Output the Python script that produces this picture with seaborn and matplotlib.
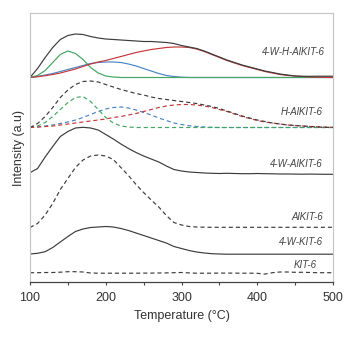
import numpy as np
import pandas as pd
import matplotlib
matplotlib.use("Agg")
import matplotlib.pyplot as plt
import seaborn as sns

# Temperature grid (°C)
temperature = list(range(100, 510, 10))

# 4-W-H-AlKIT-6 (solid) : total + deconvoluted components (intensity above baseline)
whal_total = [0, 9, 20, 30, 38, 42, 43.5, 43, 41, 39.5, 38.5, 38, 37.5, 37, 36.5, 36, 36, 35.5, 35, 34,
              32, 30.5, 29, 26.5, 23.5, 20.5, 17.5, 15, 12.5, 10.5, 8.5, 6.5, 5, 3.5, 2.5, 1.5, 1.2, 1.2, 1.3, 1.3, 1.3]
whal_green = [0, 2, 7, 15, 23, 26.5, 24, 18, 10, 4.5, 1.5, 0.5, 0, 0, 0, 0, 0, 0, 0, 0,
              0, 0, 0, 0, 0, 0, 0, 0, 0, 0, 0, 0, 0, 0, 0, 0, 0, 0, 0, 0, 0]
whal_blue = [0, 1, 2.5, 4, 6, 8, 10, 12, 14, 15, 15.5, 15.5, 15, 13.5, 11.5, 9, 6.5, 4, 2, 1,
             0.3, 0, 0, 0, 0, 0, 0, 0, 0, 0, 0, 0, 0, 0, 0, 0, 0, 0, 0, 0, 0]
whal_red = [0, 0.8, 1.8, 3, 4.5, 6.5, 8.5, 11, 13.5, 15.5, 17, 19, 21, 23, 25, 26.5, 28, 29, 30, 30.5,
            30.5, 30, 28.5, 26, 23, 20, 17, 14.5, 12, 10, 8, 6, 4.5, 3, 2, 1.5, 1, 0.5, 0.3, 0.2, 0]

# H-AlKIT-6 (dashed) : total + components
hal_total = [0, 4, 11, 20, 30, 37.5, 43, 46, 46.5, 45.5, 43, 40.5, 38, 36, 34, 32.5, 30.5, 29, 28, 27,
             26, 25, 24, 22.5, 21, 19, 16.5, 14, 11.5, 9.5, 7.5, 6, 4.5, 3.5, 2.5, 2, 1.5, 1, 0.5, 0.2, 0]
hal_green = [0, 1.5, 5, 11, 18, 25, 30, 31, 26, 18, 10, 4.5, 1.5, 0.5, 0, 0, 0, 0, 0, 0,
             0, 0, 0, 0, 0, 0, 0, 0, 0, 0, 0, 0, 0, 0, 0, 0, 0, 0, 0, 0, 0]
hal_blue = [0, 0.5, 1.5, 2.5, 4, 5.5, 7.5, 10, 13, 16, 18.5, 20, 20.5, 19.5, 17.5, 15, 12.5, 9.5, 7, 4.5,
            3, 1.8, 1, 0.5, 0.2, 0, 0, 0, 0, 0, 0, 0, 0, 0, 0, 0, 0, 0, 0, 0, 0]
hal_red = [0, 0.5, 1, 1.5, 2.5, 3.5, 4.5, 5.5, 6.5, 7.5, 8.5, 10, 11, 12.5, 14, 16, 18, 20, 21.5, 22.5,
           23, 23, 22.5, 21.5, 20, 18, 16, 13.5, 11, 9, 7, 5.5, 4.5, 3.5, 2.5, 2, 1.5, 1, 0.7, 0.4, 0.2]

# Single profiles
wal = [1.8, 6, 17.5, 28, 38, 43, 46.5, 47.2, 46.5, 44.5, 40, 35.5, 30.5, 26, 22, 18.5, 15.5, 12.5, 8.5, 5,
       3.5, 2.5, 2, 1.5, 1.2, 1, 1.2, 1, 0.8, 0.8, 1, 0.8, 0.7, 0.5, 0.5, 0.4, 0.3, 0.4, 0.3, 0.2, 0.2]
al = [0, 4, 12.5, 24, 38, 49, 60, 67.5, 71.5, 72.5, 71.5, 68, 60, 52, 43, 35, 27.5, 20.5, 12, 5,
      2.5, 1, 0.5, 0.3, 0.2, 0.2, 0.2, 0.2, 0.2, 0.2, 0.2, 0.2, 0.2, 0.2, 0.2, 0.2, 0.2, 0.2, 0.2, 0.2, 0.2]
wkit = [0.5, 1.2, 2.8, 7, 12.5, 18, 23, 25.5, 27, 27.5, 28, 27.5, 26, 24, 21.5, 19, 16.5, 14, 11.5, 8,
        6, 4, 2.5, 1.5, 0.8, 0.5, 0.3, 0.3, 0.3, 0.3, 0.3, 0.3, 0.3, 0.3, 0.3, 0.3, 0.3, 0.3, 0.3, 0.3, 0.3]
kit = [0.8, 0.8, 1, 1, 1.3, 1.8, 1.8, 1.5, 0.5, 0.3, 0.3, 0.3, 0.3, 0.3, 0.3, 0.4, 0.4, 0.5, 0.6, 0.8,
       1, 0.6, 0.3, 0.3, 0.3, 0.4, 0.4, 0.4, 0.3, 0.3, 0.2, -0.6, 0.8, 1.5, 1.5, 1.2, 1.2, 1, 0.8, 0.8, 0.8]

# vertical offsets of each stacked sample
offsets = {"4-W-H-AlKIT-6": 204.5, "H-AlKIT-6": 154.5, "4-W-AlKIT-6": 107.5,
           "AlKIT-6": 54.5, "4-W-KIT-6": 27.5, "KIT-6": 8.5}

BLACK = "#3c3c3c"
GREEN = "#42a660"
BLUE = "#4a84c4"
RED = "#c5383a"

sns.set_style("white")
plt.rcParams["font.family"] = ["Liberation Sans", "DejaVu Sans"]

fig = plt.figure(figsize=(3.57, 3.63), dpi=100)
ax = fig.add_axes([30 / 357, 1 - 282 / 363, 303 / 357, (282 - 13.3) / 363])

T = np.array(temperature)
lw = 0.85
dash = (3.5, 2.5)

def draw(vals, off, color, dashed):
    y = np.array(vals, dtype=float) + off
    l = sns.lineplot(x=T, y=y, ax=ax, color=color, lw=lw, legend=False)
    line = l.lines[-1]
    line.set_solid_joinstyle("round")
    if dashed:
        line.set_dashes(dash)

o = offsets["4-W-H-AlKIT-6"]
draw(whal_blue, o, BLUE, False)
draw(whal_green, o, GREEN, False)
draw(whal_red, o, RED, False)
draw(whal_total, o, BLACK, False)

o = offsets["H-AlKIT-6"]
draw(hal_blue, o, BLUE, True)
draw(hal_green, o, GREEN, True)
draw(hal_red, o, RED, True)
draw(hal_total, o, BLACK, True)

draw(wal, offsets["4-W-AlKIT-6"], BLACK, False)
draw(al, offsets["AlKIT-6"], BLACK, True)
draw(wkit, offsets["4-W-KIT-6"], BLACK, False)
draw(kit, offsets["KIT-6"], BLACK, True)

labels = [("4-W-H-AlKIT-6", 489.4, 229.7), ("H-AlKIT-6", 486.8, 170.0),
          ("4-W-AlKIT-6", 486.8, 117.7), ("AlKIT-6", 486.8, 65.3),
          ("4-W-KIT-6", 486.8, 40.3), ("KIT-6", 478.9, 17.0)]
for txt, x, y in labels:
    ax.text(x, y, txt, ha="right", va="center", fontsize=7, style="italic", color="#444444")

ax.set_xlim(100, 500)
ax.set_ylim(0, 268.7)
ax.set_yticks([])
ax.set_xticks([100, 200, 300, 400, 500])
ax.set_xticks([150, 250, 350, 450], minor=True)
ax.tick_params(axis="x", which="both", direction="out", length=2.5, width=0.8,
               color="#444444", labelsize=9, pad=5, labelcolor="#333333", bottom=True)
ax.set_xlabel("Temperature (°C)", fontsize=9, color="#333333", labelpad=4)
ax.set_ylabel("Intensity (a.u)", fontsize=9, color="#333333")
ax.yaxis.set_label_coords(-0.0149, 0.5)

for s in ["top", "left", "right"]:
    ax.spines[s].set_color("#c4c4c4")
    ax.spines[s].set_linewidth(0.8)
ax.spines["bottom"].set_color("#444444")
ax.spines["bottom"].set_linewidth(0.9)

fig.savefig("out.png", dpi=100)
